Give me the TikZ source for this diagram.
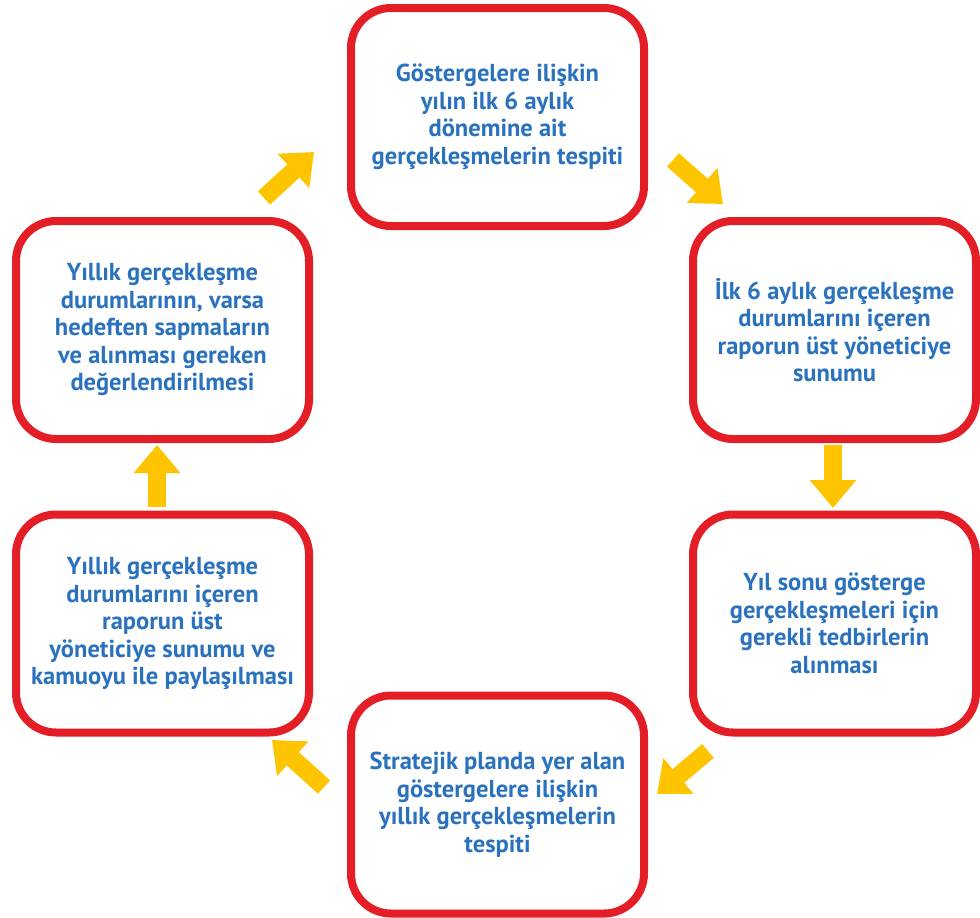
\documentclass[tikz,border=0pt]{standalone}
\usepackage{fontspec}
\setmainfont{PT Sans}
\usetikzlibrary{arrows.meta}
\definecolor{boxred}{RGB}{228,30,38}
\definecolor{txtblue}{RGB}{42,114,190}
\definecolor{arryel}{RGB}{255,196,0}
\tikzset{
  stepbox/.style={draw=boxred, line width=8pt, rounded corners=40pt, fill=white,
    minimum width=293pt, minimum height=218pt, inner sep=0pt,
    align=center, text=txtblue, font=\fontsize{24.5}{27.5}\selectfont\bfseries},
  sidebox/.style={stepbox, minimum width=283pt},
  yarrow/.style={draw=arryel, line width=18pt,
    -{Triangle[width=45pt, length=28pt, fill=arryel]}}
}
\begin{document}
\begin{tikzpicture}[x=1pt, y=-1pt]
\useasboundingbox (0,0) rectangle (980,918);
\node[stepbox] (top) at (497.5,117) {Göstergelere ilişkin\\yılın ilk 6 aylık\\dönemine ait\\gerçekleşmelerin tespiti};
\node[sidebox] (rt) at (834.5,330) {İlk 6 aylık gerçekleşme\\durumlarını içeren\\raporun üst yöneticiye\\sunumu};
\node[sidebox] (rb) at (834.5,623.5) {Yıl sonu gösterge\\gerçekleşmeleri için\\gerekli tedbirlerin\\alınması};
\node[stepbox] (bot) at (497.5,804.5) {Stratejik planda yer alan\\göstergelere ilişkin\\yıllık gerçekleşmelerin\\tespiti};
\node[stepbox] (lb) at (162.5,623.5) {Yıllık gerçekleşme\\durumlarını içeren\\raporun üst\\yöneticiye sunumu ve\\kamuoyu ile paylaşılması};
\node[stepbox] (lt) at (162.5,330) {Yıllık gerçekleşme\\durumlarının, varsa\\hedeften sapmaların\\ve alınması gereken\\değerlendirilmesi};
\coordinate (a1s) at (264,198); \coordinate (a1e) at (314,152);
\coordinate (a2s) at (673,160); \coordinate (a2e) at (723,204);
\coordinate (a3s) at (833,445); \coordinate (a3e) at (833,508);
\coordinate (a4s) at (708,751); \coordinate (a4e) at (657,794);
\coordinate (a5s) at (324,787); \coordinate (a5e) at (272,740);
\coordinate (a6s) at (157,507); \coordinate (a6e) at (157,445);
\draw[yarrow] (a1s) -- (a1e);
\draw[yarrow] (a2s) -- (a2e);
\draw[yarrow] (a3s) -- (a3e);
\draw[yarrow] (a4s) -- (a4e);
\draw[yarrow] (a5s) -- (a5e);
\draw[yarrow] (a6s) -- (a6e);
\end{tikzpicture}
\end{document}
